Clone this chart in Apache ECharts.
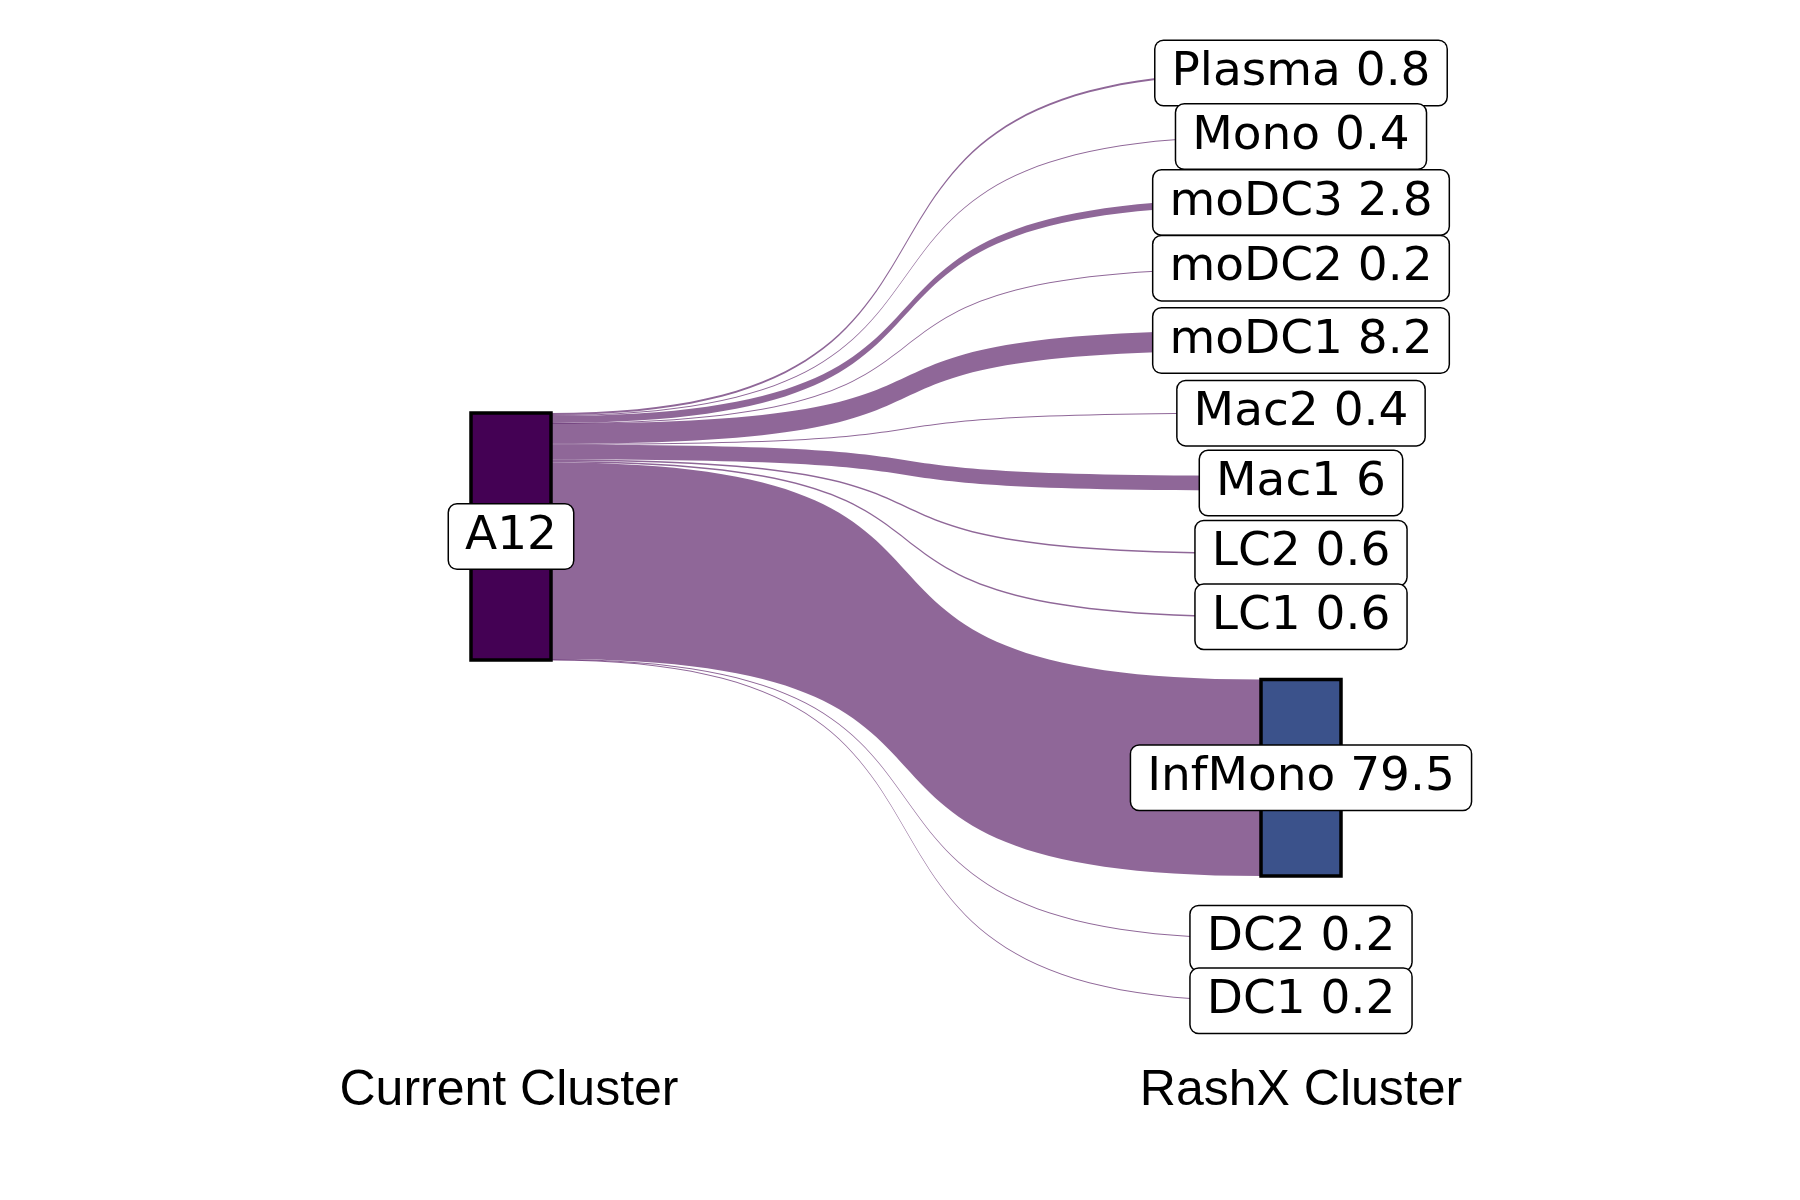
<!DOCTYPE html>
<html>
<head>
<meta charset="utf-8">
<script src="https://cdn.jsdelivr.net/npm/echarts@6/dist/echarts.min.js"></script>
<style>html,body{margin:0;padding:0;background:#fff;}#chart{width:1800px;height:1200px;}</style>
</head>
<body>
<div id="chart"></div>
<script>
// ---- data ----
const sourceName = 'A12';
const targetNames = ['Plasma', 'Mono', 'moDC3', 'moDC2', 'moDC1', 'Mac2', 'Mac1', 'LC2', 'LC1', 'InfMono', 'DC2', 'DC1'];
const targetValues = [0.8, 0.4, 2.8, 0.2, 8.2, 0.4, 6, 0.6, 0.6, 79.5, 0.2, 0.2];
const targetColors = ['#482173', '#433E85', '#38588C', '#2D708E', '#25858E', '#1E9B8A', '#2BB07F', '#51C56A', '#85D54A', '#3B528B', '#C2DF23', '#FDE725'];
const sourceColor = '#440154';
const columnTitles = ['Current Cluster', 'RashX Cluster'];

// ---- layout settings ----
const seriesLeft = 471, seriesTop = 72, seriesWidth = 870, seriesHeight = 929;
const nodeWidth = 80, nodeGap = 62;

const total = targetValues.reduce((a, b) => a + b, 0);
const ky = (seriesHeight - (targetNames.length - 1) * nodeGap) / total;
const sourceLocalY = (seriesHeight - total * ky) / 2 / seriesHeight;

const nodes = [{
  name: sourceName,
  localY: sourceLocalY,
  itemStyle: { color: sourceColor },
  label: { formatter: sourceName }
}].concat(targetNames.map((n, i) => ({
  name: n,
  itemStyle: { color: targetColors[i] },
  label: { formatter: n + ' ' + targetValues[i] }
})));

const links = targetNames.map((n, i) => ({ source: sourceName, target: n, value: targetValues[i] }));

const chart = echarts.init(document.getElementById('chart'), null, { renderer: 'canvas' });
chart.setOption({
  backgroundColor: '#ffffff',
  animation: false,
  series: [{
    type: 'sankey',
    left: seriesLeft,
    top: seriesTop,
    width: seriesWidth,
    height: seriesHeight,
    nodeWidth: nodeWidth,
    nodeGap: nodeGap,
    layoutIterations: 0,
    draggable: false,
    emphasis: { disabled: true },
    data: nodes,
    links: links,
    itemStyle: { borderColor: '#000', borderWidth: 3.5 },
    lineStyle: { color: sourceColor, opacity: 0.6, curveness: 0.72 },
    label: {
      show: true,
      position: 'inside',
      color: '#000',
      fontFamily: 'DejaVu Sans',
      fontSize: 47,
      lineHeight: 48,
      backgroundColor: '#fff',
      borderColor: '#000',
      borderWidth: 1.5,
      borderRadius: 8,
      padding: [14, 16, 2, 16]
    }
  }],
  graphic: columnTitles.map((t, i) => ({
    type: 'text',
    x: i === 0 ? seriesLeft + nodeWidth / 2 - 2 : seriesLeft + seriesWidth - nodeWidth / 2,
    y: 1091,
    style: {
      text: t,
      fontFamily: 'Liberation Sans',
      fontSize: 50,
      fill: '#000',
      align: 'center',
      verticalAlign: 'middle'
    }
  }))
});
</script>
</body>
</html>
